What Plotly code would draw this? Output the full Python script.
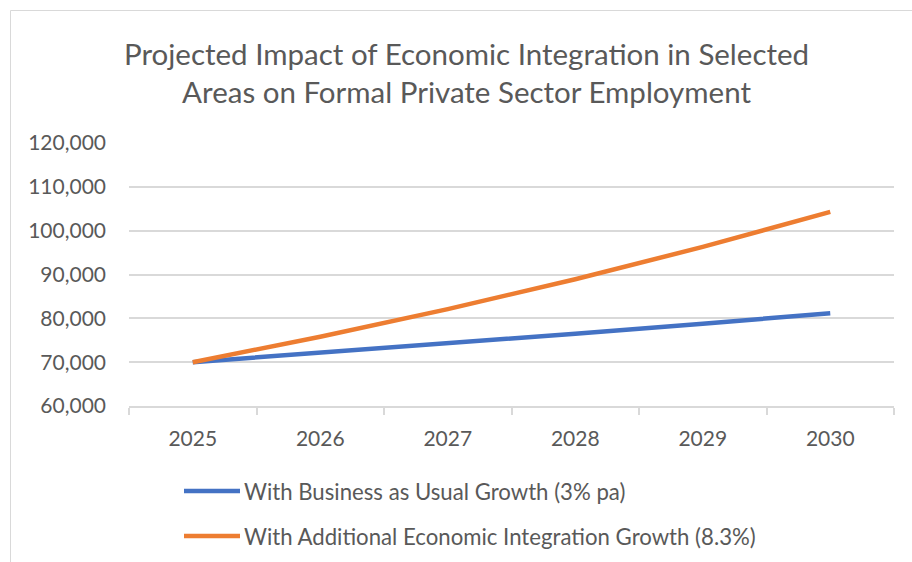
import plotly.graph_objects as go

years = ["2025", "2026", "2027", "2028", "2029", "2030"]
bau_growth = [70000, 72100, 74263, 76491, 78786, 81149]
integration_growth = [70000, 75810, 82102, 88917, 96297, 104289]
series_names = [
    "With Business as Usual Growth (3% pa)",
    "With Additional Economic Integration Growth (8.3%)",
]
series_colors = ["#4472C4", "#ED7D31"]
y_ticks = [60000, 70000, 80000, 90000, 100000, 110000, 120000]

W, H = 912, 562
L, R, T, B = 129, 18, 143, 156
plot_w = W - L - R
plot_h = H - T - B

FONT = "Lato"
TXT = "#595959"
GRID = "#D9D9D9"


def px_x(px):
    return (px - L) / plot_w


def px_y(py):
    return (H - B - py) / plot_h


fig = go.Figure()
for vals, name, color in zip([bau_growth, integration_growth], series_names, series_colors):
    fig.add_trace(go.Scatter(x=years, y=vals, mode="lines", name=name,
                             showlegend=False,
                             line=dict(color=color, width=4.5)))

# outer chart frame
fig.add_shape(type="rect", xref="paper", yref="paper",
              x0=px_x(10.5), x1=1.5, y0=-2, y1=px_y(10.5),
              line=dict(color=GRID, width=1), fillcolor="rgba(0,0,0,0)", layer="below")

# legend below the plot: a line swatch and label per series
for i, (name, color) in enumerate(zip(series_names, series_colors)):
    ly = 491 + 45 * i
    fig.add_shape(type="line", xref="paper", yref="paper",
                  x0=px_x(184), x1=px_x(240), y0=px_y(ly), y1=px_y(ly),
                  line=dict(color=color, width=4.5))
    fig.add_annotation(text=name, xref="paper", yref="paper",
                       x=px_x(242), y=px_y(ly), xanchor="left", yanchor="middle",
                       showarrow=False,
                       font=dict(family=FONT, size=22.2, color=TXT))

fig.add_annotation(text="Projected Impact of Economic Integration in Selected<br>Areas on Formal Private Sector Employment",
                   xref="paper", yref="paper",
                   x=px_x(466), y=px_y(72),
                   xanchor="center", yanchor="middle", showarrow=False,
                   font=dict(family=FONT, size=29.5, color=TXT))

fig.update_layout(
    width=W, height=H,
    margin=dict(l=L, r=R, t=T, b=B),
    paper_bgcolor="white", plot_bgcolor="white",
    font=dict(family=FONT, size=21, color=TXT),
    showlegend=False,
    xaxis=dict(type="category", range=[-0.5, 5.5], showgrid=False,
               showline=True, linecolor=GRID, linewidth=1.5,
               ticks="outside", ticklen=7, tickcolor=GRID, tickwidth=1.5,
               tickson="boundaries", ticklabelstandoff=13),
    yaxis=dict(range=[60000, 120000], tickvals=y_ticks, tickformat=",",
               showgrid=True, gridcolor=GRID, gridwidth=1.5,
               zeroline=False, showline=False, ticks="", ticklabelstandoff=22),
)

fig.write_html("out.html")
